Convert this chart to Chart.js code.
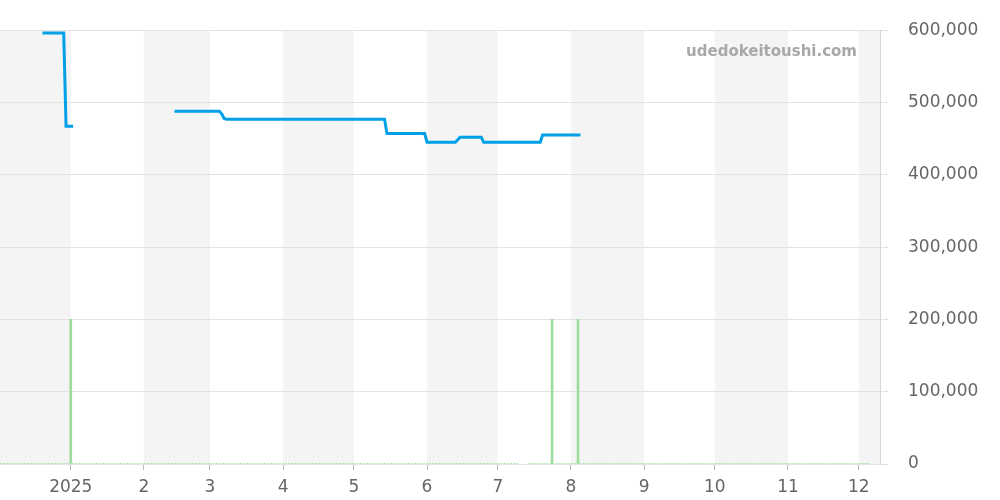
<!DOCTYPE html>
<html>
<head>
<meta charset="utf-8">
<script src="https://cdn.jsdelivr.net/npm/chart.js@4"></script>
<style>
  body { margin: 0; background: #fff; }
  #wrap { width: 1000px; height: 500px; }
</style>
</head>
<body>
<div id="wrap"><canvas id="price-chart"></canvas></div>
<script>
// price history (null = no listing)
const priceDates = ['2024-12-20', '2024-12-29', '2024-12-30', '2025-01-02', '2025-01-10',
    '2025-02-14', '2025-03-05', '2025-03-06', '2025-03-07', '2025-03-08', '2025-05-14', '2025-05-15',
    '2025-05-31', '2025-06-01', '2025-06-13', '2025-06-15', '2025-06-24', '2025-06-25',
    '2025-07-19', '2025-07-20', '2025-08-05'];
const prices = [596000, 596000, 467000, 467000, null,
    488000, 488000, 484000, 478000, 477000, 477000, 457000,
    457000, 445000, 445000, 452000, 452000, 445000,
    445000, 455000, 455000];

// listing volume bars
const volumeDates = ['2025-01-01', '2025-07-24', '2025-08-04'];
const volumes = [200000, 200000, 200000];

// zero baseline
const baseDates = ['2024-12-02', '2025-07-10', '2025-07-11', '2025-07-14', '2025-12-06'];
const baseValues = [0, 0, null, 0, 0];

const rangeStart = '2024-12-02';
const rangeEnd = '2025-12-10';

const monthStarts = ['2025-01-01', '2025-02-01', '2025-03-01', '2025-04-01', '2025-05-01', '2025-06-01',
    '2025-07-01', '2025-08-01', '2025-09-01', '2025-10-01', '2025-11-01', '2025-12-01'];
const monthLabels = ['2025', '2', '3', '4', '5', '6', '7', '8', '9', '10', '11', '12'];

// shaded month bands [from, to]
const bandStarts = ['2024-12-02', '2025-02-01', '2025-04-01', '2025-06-01', '2025-08-01', '2025-10-01', '2025-12-01'];
const bandEnds = ['2025-01-01', '2025-03-01', '2025-05-01', '2025-07-01', '2025-09-01', '2025-11-01', '2025-12-10'];

const yTicks = [0, 100000, 200000, 300000, 400000, 500000, 600000];

const dayOf = s => Math.round((Date.UTC(+s.slice(0, 4), +s.slice(5, 7) - 1, +s.slice(8, 10)) - Date.UTC(2025, 0, 1)) / 86400000);

const bands = {
    id: 'bands',
    beforeDraw(chart) {
        const { ctx, chartArea: a, scales: { x } } = chart;
        ctx.save();
        ctx.fillStyle = '#f4f4f4';
        bandStarts.forEach((s, i) => {
            const x0 = Math.max(a.left, x.getPixelForValue(dayOf(s)));
            const x1 = Math.min(a.right, x.getPixelForValue(dayOf(bandEnds[i])));
            ctx.fillRect(x0, a.top, x1 - x0, a.bottom - a.top);
        });
        ctx.restore();
    },
    afterDraw(chart) {
        const ctx = chart.ctx;
        ctx.save();
        ctx.font = 'bold 15px "DejaVu Sans"';
        ctx.fillStyle = '#a8a8a8';
        ctx.textAlign = 'right';
        ctx.textBaseline = 'middle';
        ctx.fillText('udedokeitoushi.com', 857, 52);
        ctx.restore();
    }
};

new Chart(document.getElementById('price-chart'), {
    type: 'line',
    data: {
        datasets: [{
            label: 'price',
            data: priceDates.map((d, i) => ({ x: dayOf(d), y: prices[i] })),
            borderColor: '#00a0e9',
            borderWidth: 3,
            pointRadius: 0,
            spanGaps: false,
            order: 0
        }, {
            type: 'bar',
            label: 'volume',
            data: volumeDates.map((d, i) => ({ x: dayOf(d), y: volumes[i] })),
            backgroundColor: '#9edc9e',
            barThickness: 2,
            order: 1
        }, {
            label: 'base',
            data: baseDates.map((d, i) => ({ x: dayOf(d), y: baseValues[i] })),
            borderColor: '#9edc9e',
            borderWidth: 1.5,
            borderDash: [2, 1],
            pointRadius: 0,
            spanGaps: false,
            order: 2
        }]
    },
    options: {
        responsive: true,
        maintainAspectRatio: false,
        animation: false,
        layout: { padding: { left: 0, top: 30, right: 0, bottom: 0 } },
        plugins: { legend: { display: false }, tooltip: { enabled: false } },
        scales: {
            x: {
                type: 'linear',
                offset: false,
                min: dayOf(rangeStart),
                max: dayOf(rangeEnd),
                afterBuildTicks: s => { s.ticks = monthStarts.map(d => ({ value: dayOf(d) })); },
                afterFit: s => { s.height = 36; },
                grid: { offset: false, drawOnChartArea: false, drawTicks: true, tickLength: 6, color: '#bbbbbb' },
                border: { display: false },
                ticks: {
                    autoSkip: false,
                    maxRotation: 0,
                    color: '#666',
                    font: { family: 'DejaVu Sans', size: 17 },
                    padding: 7,
                    callback: v => monthLabels[monthStarts.findIndex(d => dayOf(d) === v)]
                }
            },
            y: {
                position: 'right',
                min: 0,
                max: 600000,
                afterBuildTicks: s => { s.ticks = yTicks.map(v => ({ value: v })); },
                afterFit: s => { s.width = 120; },
                grid: { color: '#e2e2e2', tickLength: 8 },
                border: { display: true, color: '#d8d8d8' },
                ticks: {
                    color: '#666',
                    font: { family: 'DejaVu Sans', size: 17 },
                    padding: 20,
                    callback: v => v.toLocaleString('en-US')
                }
            }
        }
    },
    plugins: [bands]
});
</script>
</body>
</html>
